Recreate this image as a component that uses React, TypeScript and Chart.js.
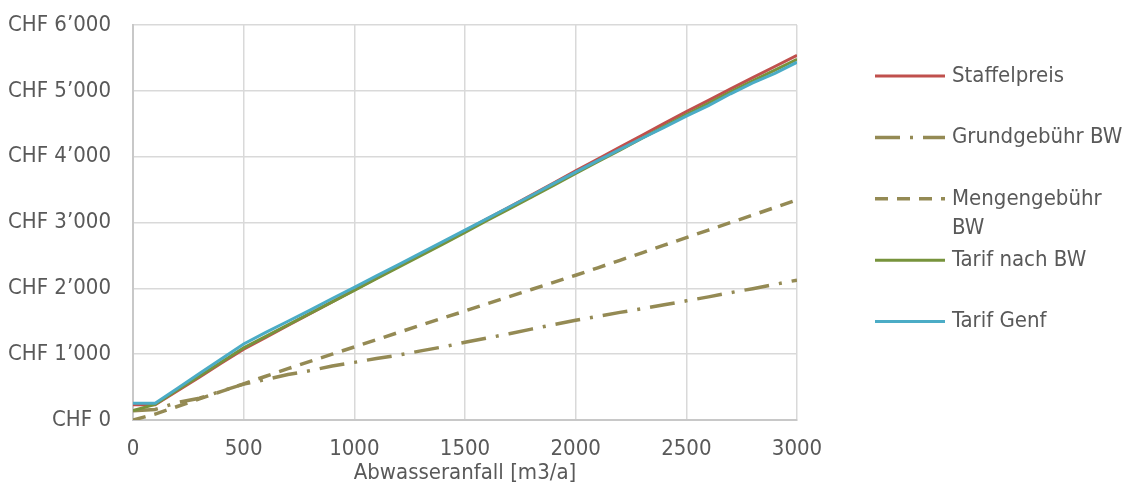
import React, { useEffect, useRef } from 'react';
import { Chart, registerables } from 'chart.js';

Chart.register(...registerables);

// Abwasseranfall [m3/a]
const volumes = [0, 100, 200, 300, 400, 500, 600, 700, 800, 900, 1000, 1100, 1200, 1300, 1400, 1500, 1600, 1700, 1800, 1900, 2000, 2100, 2200, 2300, 2400, 2500, 2600, 2700, 2800, 2900, 3000];

const staffelpreis = [230, 230, 440, 650, 865, 1075, 1255, 1435, 1615, 1795, 1975, 2155, 2335, 2515, 2695, 2875, 3055, 3235, 3415, 3600, 3785, 3965, 4145, 4325, 4505, 4685, 4855, 5030, 5200, 5370, 5540];
const grundgebuehrBW = [140, 160, 265, 330, 440, 545, 615, 690, 750, 820, 875, 935, 985, 1050, 1110, 1180, 1245, 1310, 1380, 1450, 1515, 1575, 1635, 1690, 1750, 1810, 1870, 1935, 1995, 2060, 2125];
const mengengebuehrBW = [0, 90, 205, 320, 435, 550, 665, 780, 890, 1000, 1110, 1220, 1330, 1440, 1548, 1656, 1765, 1873, 1982, 2090, 2199, 2312, 2426, 2540, 2655, 2771, 2885, 2999, 3113, 3228, 3343];
const tarifNachBW = [145, 238, 455, 665, 880, 1095, 1270, 1445, 1620, 1795, 1970, 2145, 2320, 2495, 2670, 2850, 3030, 3205, 3385, 3565, 3745, 3925, 4100, 4280, 4460, 4640, 4810, 4985, 5150, 5315, 5480];
const tarifGenf = [255, 255, 480, 705, 930, 1155, 1330, 1500, 1670, 1845, 2015, 2190, 2360, 2535, 2710, 2885, 3060, 3235, 3410, 3590, 3765, 3940, 4110, 4280, 4445, 4615, 4775, 4955, 5120, 5265, 5435];

const seriesNames = ['Staffelpreis', 'Grundgebühr BW', 'Mengengebühr BW', 'Tarif nach BW', 'Tarif Genf'];
const legendLines = [['Staffelpreis'], ['Grundgebühr BW'], ['Mengengebühr', 'BW'], ['Tarif nach BW'], ['Tarif Genf']];
const yTickLabels = ['CHF 0', 'CHF 1’000', 'CHF 2’000', 'CHF 3’000', 'CHF 4’000', 'CHF 5’000', 'CHF 6’000'];
const xTickLabels = ['0', '500', '1000', '1500', '2000', '2500', '3000'];
const xAxisTitle = 'Abwasseranfall [m3/a]';

const FONT = '"Liberation Sans Narrow", "Arial Narrow", "DejaVu Sans Condensed", sans-serif';
const TEXT = '#595959';

const pts = (vals: number[]) => vals.map((v, i) => ({ x: volumes[i], y: v }));

const legendPlugin = {
  id: 'sideLegend',
  afterDraw(chart: any) {
    const { ctx, chartArea } = chart;
    ctx.save();
    ctx.font = `22px ${FONT}`;
    ctx.fillStyle = TEXT;
    ctx.textBaseline = 'middle';
    ctx.textAlign = 'left';
    chart.data.datasets.forEach((ds: any, i: number) => {
      const y = chartArea.top + 51 + i * 61.4;
      const x0 = chartArea.right + 78;
      ctx.beginPath();
      ctx.strokeStyle = ds.borderColor;
      ctx.lineWidth = ds.borderWidth;
      ctx.lineCap = 'butt';
      ctx.setLineDash(ds.borderDash || []);
      ctx.moveTo(x0, y);
      ctx.lineTo(x0 + 70, y);
      ctx.stroke();
      ctx.setLineDash([]);
      legendLines[i].forEach((t, j) => ctx.fillText(t, x0 + 77, y + j * 29));
    });
    ctx.restore();
  },
};

export default function App() {
  const ref = useRef<HTMLCanvasElement>(null);
  useEffect(() => {
    document.body.style.margin = '0';
    const canvas = ref.current!;
    const chart = new Chart(canvas, {
      type: 'line',
      data: {
        datasets: [
          { label: seriesNames[0], data: pts(staffelpreis), borderColor: '#C0504D', borderWidth: 3, order: 5 },
          { label: seriesNames[1], data: pts(grundgebuehrBW), borderColor: '#948A54', borderWidth: 3.5, borderDash: [25, 10, 3, 10], order: 4 },
          { label: seriesNames[2], data: pts(mengengebuehrBW), borderColor: '#948A54', borderWidth: 3.5, borderDash: [13, 9], order: 3 },
          { label: seriesNames[3], data: pts(tarifNachBW), borderColor: '#77933C', borderWidth: 3, order: 2 },
          { label: seriesNames[4], data: pts(tarifGenf), borderColor: '#4BACC6', borderWidth: 3, order: 1 },
        ] as any,
      },
      options: {
        animation: false,
        responsive: false,
        maintainAspectRatio: false,
        devicePixelRatio: 1,
        elements: { point: { radius: 0 }, line: { tension: 0, borderCapStyle: 'butt' } },
        layout: { padding: { left: 0, right: 332, top: 25, bottom: 0 } },
        plugins: { legend: { display: false }, tooltip: { enabled: false } },
        scales: {
          x: {
            type: 'linear',
            min: 0,
            max: 3000,
            afterFit: (s: any) => { s.height = 68; s.paddingLeft = 0; s.paddingRight = 0; },
            grid: { color: '#d9d9d9', lineWidth: 1.5, drawTicks: false },
            border: { color: '#c8c8c8', width: 2 },
            ticks: {
              stepSize: 500,
              padding: 16,
              color: TEXT,
              font: { family: FONT, size: 22 },
              maxRotation: 0,
              callback: (_v: any, i: number) => xTickLabels[i],
            },
            title: { display: true, text: xAxisTitle, color: TEXT, font: { family: FONT, size: 22 }, padding: { top: 0, bottom: 2 } },
          },
          y: {
            min: 0,
            max: 6000,
            afterFit: (s: any) => { s.width = 133; s.paddingTop = 0; s.paddingBottom = 0; },
            grid: { color: '#d9d9d9', lineWidth: 1.5, drawTicks: false },
            border: { color: '#c8c8c8', width: 2 },
            ticks: {
              stepSize: 1000,
              padding: 22,
              color: TEXT,
              font: { family: FONT, size: 22 },
              callback: (_v: any, i: number) => yTickLabels[i],
            },
          },
        },
      },
      plugins: [legendPlugin],
    });
    return () => chart.destroy();
  }, []);
  return (
    <div style={{ width: 1129, height: 488, position: 'relative', background: '#fff' }}>
      <canvas ref={ref} width={1129} height={488} style={{ display: 'block' }} />
    </div>
  );
}
